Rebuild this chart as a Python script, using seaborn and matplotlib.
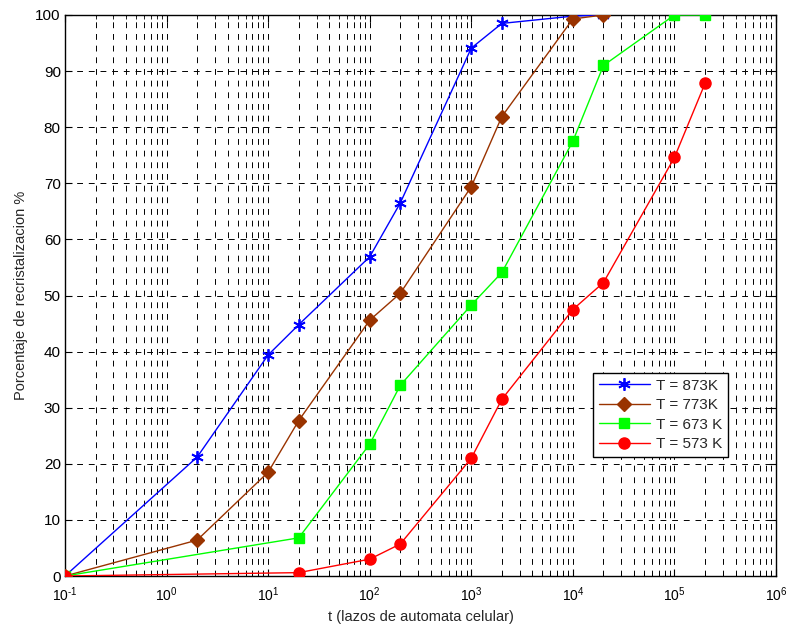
import matplotlib
matplotlib.use("Agg")
import matplotlib.pyplot as plt
import seaborn as sns
import pandas as pd
import numpy as np
from matplotlib.ticker import LogLocator, FuncFormatter

# data
t_873 = [0.1, 2, 10, 20, 100, 200, 1000, 2000, 10000, 20000]
p_873 = [0, 21.2, 39.4, 44.8, 56.9, 66.5, 94.1, 98.5, 99.8, 100]
t_773 = [0.1, 2, 10, 20, 100, 200, 1000, 2000, 10000, 20000]
p_773 = [0, 6.4, 18.5, 27.7, 45.6, 50.4, 69.4, 81.9, 99.3, 100]
t_673 = [0.1, 20, 100, 200, 1000, 2000, 10000, 20000, 100000, 200000]
p_673 = [0, 6.8, 23.5, 34.0, 48.3, 54.1, 77.5, 91.0, 100, 100]
t_573 = [0.1, 20, 100, 200, 1000, 2000, 10000, 20000, 100000, 200000]
p_573 = [0, 0.6, 3.0, 5.7, 21.0, 31.5, 47.5, 52.3, 74.6, 87.8]

labels = ["T = 873K", "T = 773K", "T = 673 K", "T = 573 K"]
colors = ["#0000FF", "#993300", "#00FF00", "#FF0000"]
markers = [(6, 2, 0), "D", "s", "o"]
msizes = [9, 7, 7, 8]
yticks = list(range(0, 101, 10))

sns.set_style("white")
plt.rcParams['font.family'] = ['Liberation Sans', 'DejaVu Sans']
plt.rcParams['mathtext.fontset'] = 'custom'
plt.rcParams['mathtext.rm'] = 'Liberation Sans'
plt.rcParams['mathtext.it'] = 'Liberation Sans:italic'

fig = plt.figure(figsize=(7.87, 6.25), dpi=100)
ax = fig.add_axes([65/787, 1-576/625, 711/787, 561/625])

series = [(t_873, p_873), (t_773, p_773), (t_673, p_673), (t_573, p_573)]
for (t, p), lab, c, m, ms in zip(series, labels, colors, markers, msizes):
    df = pd.DataFrame({"t": t, "p": p})
    sns.lineplot(data=df, x="t", y="p", ax=ax, color=c, marker=m,
                 markersize=ms, markeredgecolor=c, markerfacecolor=c,
                 markeredgewidth=1.3 if m == (6, 2, 0) else 1.0,
                 linewidth=1.0, label=lab, sort=False, estimator=None,
                 zorder=3)

ax.set_xscale("log")
ax.set_xlim(0.1, 1e6)
ax.set_ylim(0, 100)
ax.set_yticks(yticks)
ax.xaxis.set_major_locator(LogLocator(base=10, numticks=20))
ax.xaxis.set_minor_locator(LogLocator(base=10, subs=np.arange(2, 10), numticks=100))


def fmt(v, pos):
    e = int(round(np.log10(v)))
    if e < 0:
        return r"$10^{\text{-}%d}$" % (-e)
    return r"$10^{%d}$" % e


ax.xaxis.set_major_formatter(FuncFormatter(fmt))

gridkw = dict(color="black", linestyle=(0, (6, 6)), linewidth=0.7)
ax.grid(True, which="major", axis="both", **gridkw)
ax.grid(True, which="minor", axis="x", **gridkw)
ax.set_axisbelow(True)

for s in ax.spines.values():
    s.set_color("black")
    s.set_linewidth(1.0)
    s.set_visible(True)

ax.tick_params(which="both", direction="in", top=True, right=True,
               bottom=True, left=True, colors="black")
ax.tick_params(which="major", length=5)
ax.tick_params(which="minor", length=3)
ax.tick_params(axis="y", pad=3, labelsize=11)
ax.tick_params(axis="x", pad=7, labelsize=10)

ax.set_xlabel("t (lazos de automata celular)", fontsize=10.5, labelpad=4)
ax.set_ylabel("Porcentaje de recristalizacion %", fontsize=10.5, labelpad=5)

leg = ax.legend(loc="upper left", bbox_to_anchor=(0.732, 0.376),
                frameon=True, fancybox=False, edgecolor="black",
                framealpha=1, fontsize=11, handlelength=3.3,
                borderpad=0.4, labelspacing=0.35, handletextpad=0.4)
leg.get_frame().set_linewidth(1.0)

fig.savefig("out.png", dpi=100)
